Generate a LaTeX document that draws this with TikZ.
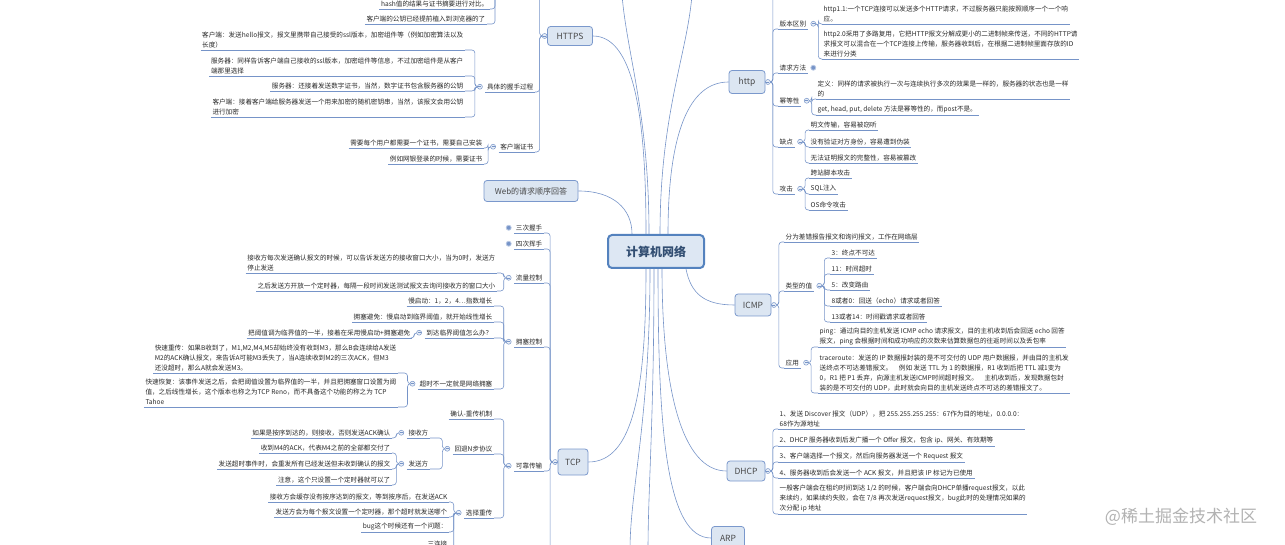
\documentclass[tikz,border=0pt]{standalone}
\usepackage{fontspec}
\setmainfont{Noto Sans CJK SC}
\usetikzlibrary{positioning}
\definecolor{linec}{RGB}{118,148,200}
\definecolor{boxfill}{RGB}{220,230,242}
\definecolor{boxline}{RGB}{122,152,204}
\definecolor{rootline}{RGB}{84,130,190}
\definecolor{rootfill}{RGB}{221,231,243}
\definecolor{txt}{RGB}{40,40,40}
\definecolor{mkfill}{RGB}{232,238,247}
\newcommand\leaffont{\fontsize{6.6}{10}\selectfont}
\newcommand\topicfont{\fontsize{8.5}{10}\selectfont}
\tikzset{
  lf/.style={font=\leaffont, text=txt, inner xsep=1.5pt, inner ysep=2pt, align=left},
  lfL/.style={lf, anchor=south east},
  lfR/.style={lf, anchor=south west},
  topic/.style={draw=boxline, fill=boxfill, rounded corners=3pt, font=\topicfont, text=txt!85, line width=0.8pt},
  conn/.style={draw=linec, line width=0.6pt, rounded corners=3pt},
  elL/.style={to path={-- ++(-5,0) |- (\tikztotarget)}},
  elR/.style={to path={-- ++(5,0) |- (\tikztotarget)}},
  mk/.style={circle, draw=linec, fill=mkfill, inner sep=0pt, minimum size=5pt, line width=0.5pt,
    path picture={\draw[linec, line width=0.5pt] ([xshift=-1.5pt]path picture bounding box.center) -- ([xshift=1.5pt]path picture bounding box.center);}},
  mkf/.style={circle, draw=linec!50, fill=linec, inner sep=0pt, minimum size=5pt, line width=0.8pt},
}
\begin{document}
\begin{tikzpicture}[x=1pt, y=-1pt]
\useasboundingbox (0,0) rectangle (1285,545);

% centre
\node[draw=rootline, fill=rootfill, line width=2pt, rounded corners=4pt, minimum width=96pt, minimum height=33pt,
  font=\fontsize{12}{14}\selectfont\bfseries, text=rootline!60!black] (root) at (656,251.5) {计算机网络};

% HTTPS
\node[topic, minimum width=45pt, minimum height=19pt] (https) at (570,36) {HTTPS};
\coordinate[left=2.5pt of https] (mHTTPS);
\coordinate (httpsup) at (536,-10);
\coordinate (hstop) at (500,-10);
\node[lfL] (hsa) at (490,9) {hash值的结果与证书摘要进行对比。};
\node[lfL] (hsb) at (487,24) {客户端的公钥已经提前植入到浏览器的了};
\node[lfL] (p1) at (535,92) {具体的握手过程};
\coordinate[left=5.5pt of p1] (mp1);
\node[lfL] (c1) at (465,50) {客户端：发送hello报文，报文里携带自己接受的ssl版本，加密组件等（例如加密算法以及\\长度）};
\node[lfL] (c2) at (465,76) {服务器：同样告诉客户端自己接收的ssl版本，加密组件等信息，不过加密组件是从客户\\端那里选择};
\node[lfL] (c3) at (465,91) {服务器：还接着发送数字证书，当然，数字证书包含服务器的公钥};
\node[lfL] (c4) at (465,117) {客户端：接着客户端给服务器发送一个用来加密的随机密钥串，当然，该报文会用公钥\\进行加密};
\node[lfL] (p2) at (535,152) {客户端证书};
\coordinate[left=5.5pt of p2] (mp2);
\node[lfL] (d1) at (484,148) {需要每个用户都需要一个证书，需要自己安装};
\node[lfL] (d2) at (484,164) {例如网银登录的时候，需要证书};

\node[topic, minimum width=94pt, minimum height=21pt, font=\fontsize{8}{10}\selectfont] (web) at (531,191) {Web的请求顺序回答};

% TCP
\node[topic, minimum width=30pt, minimum height=26pt] (tcp) at (573,462) {TCP};
\coordinate[left=2.5pt of tcp] (mTCP);
\coordinate (tcpdown) at (544,560);
\node[lfL] (t1) at (544,233) {三次握手};
\node[lfL] (t2) at (544,249) {四次挥手};
\node[lfL] (t3) at (544,283) {流量控制};
\node[lfL] (t4) at (544,347) {拥塞控制};
\node[lfL] (t5) at (544,471) {可靠传输};
\foreach \n in {t1,t2,t3,t4,t5} \coordinate[left=5.5pt of \n] (m\n);
\node[lfL] (f1) at (497,273) {接收方每次发送确认报文的时候，可以告诉发送方的接收窗口大小，当为0时，发送方\\停止发送};
\node[lfL] (f2) at (497,291) {之后发送方开放一个定时器，每隔一段时间发送测试报文去询问接收方的窗口大小};
\node[lfL] (g1) at (494,306) {慢启动：1，2，4…指数增长};
\node[lfL] (g2) at (494,322) {拥塞避免：慢启动到临界阈值，就开始线性增长};
\node[lfL] (g3) at (494,338) {到达临界阈值怎么办？};
\node[lfL] (g4) at (494,389) {超时不一定就是网络拥塞};
\coordinate[left=5.5pt of g3] (mg3);
\coordinate[left=5.5pt of g4] (mg4);
\node[lfL] (g3a) at (412,338) {把阈值调为临界值的一半，接着在采用慢启动+拥塞避免};
\node[lfL] (g4a) at (398,373) {快速重传：如果B收到了，M1,M2,M4,M5却始终没有收到M3，那么B会连续给A发送\\M2的ACK确认报文，来告诉A可能M3丢失了，当A连续收到M2的三次ACK，但M3\\还没超时，那么A就会发送M3。};
\node[lfL] (g4b) at (398,407) {快速恢复：该事件发送之后，会把阈值设置为临界值的一半，并且把拥塞窗口设置为阈\\值，之后线性增长，这个版本也称之为TCP Reno，而不具备这个功能的称之为 TCP\\Tahoe};
\node[lfL] (r1) at (494,419) {确认-重传机制};
\node[lfL] (r2) at (494,454) {回退N步协议};
\node[lfL] (r3) at (494,518) {选择重传};
\coordinate[left=5.5pt of r2] (mr2);
\coordinate[left=5.5pt of r3] (mr3);
\node[lfL] (r2a) at (430,438) {接收方};
\node[lfL] (r2b) at (430,469) {发送方};
\coordinate[left=5.5pt of r2a] (mr2a);
\coordinate[left=5.5pt of r2b] (mr2b);
\node[lfL] (r2a1) at (392,438) {如果是按序到达的，则接收，否则发送ACK确认};
\node[lfL] (r2b1) at (392,453) {收到M4的ACK，代表M4之前的全部都交付了};
\node[lfL] (r2b2) at (392,469) {发送超时事件时，会重发所有已经发送但未收到确认的报文};
\node[lfL] (r2b3) at (392,485) {注意，这个只设置一个定时器就可以了};
\node[lfL] (r3a) at (449,502) {接收方会缓存没有按序达到的报文，等到按序后，在发送ACK};
\node[lfL] (r3b) at (449,517) {发送方会为每个报文设置一个定时器，那个超时就发送哪个};
\node[lfL] (r3c) at (449,532) {bug这个时候还有一个问题：};
\node[lfL] (r3d) at (449,549) {三连接};

% http
\node[topic, minimum width=36pt, minimum height=23pt] (http) at (747,82) {http};
\coordinate[right=2.5pt of http] (mhttp);
\coordinate (httpup) at (780,-10);
\node[lfR] (h1) at (778,29) {版本区别};
\node[lfR] (h2) at (778,73) {请求方法};
\node[lfR] (h3) at (778,106) {幂等性};
\node[lfR] (h4) at (778,147) {缺点};
\node[lfR] (h5) at (778,194) {攻击};
\foreach \n in {h1,h2,h3,h4,h5} \coordinate[right=5.5pt of \n] (m\n);
\node[lfR] (h1a) at (822,24) {http1.1:一个TCP连接可以发送多个HTTP请求，不过服务器只能按照顺序一个一个响\\应。};
\node[lfR] (h1b) at (822,59) {http2.0采用了多路复用，它把HTTP报文分解成更小的二进制帧来传送，不同的HTTP请\\求报文可以混合在一个TCP连接上传输，服务器收到后，在根据二进制帧里面存放的ID\\来进行分类};
\node[lfR] (h3a) at (816,99) {定义：同样的请求被执行一次与连续执行多次的效果是一样的，服务器的状态也是一样\\的};
\node[lfR] (h3b) at (816,115) {get, head, put, delete 方法是幂等性的，而post不是。};
\node[lfR] (h4a) at (809,130) {明文传输，容易被窃听};
\node[lfR] (h4b) at (809,147) {没有验证对方身份，容易遭到伪装};
\node[lfR] (h4c) at (809,163) {无法证明报文的完整性，容易被篡改};
\node[lfR] (h5a) at (809,178) {跨站脚本攻击};
\node[lfR] (h5b) at (809,194) {SQL注入};
\node[lfR] (h5c) at (809,210) {OS命令攻击};

% ICMP
\node[topic, minimum width=36pt, minimum height=22pt] (icmp) at (753,305) {ICMP};
\coordinate[right=2.5pt of icmp] (micmp);
\node[lfR] (i1) at (784,242) {分为差错报告报文和询问报文，工作在网络层};
\node[lfR] (i2) at (784,291) {类型的值};
\node[lfR] (i3) at (784,368) {应用};
\coordinate[right=5.5pt of i2] (mi2);
\coordinate[right=5.5pt of i3] (mi3);
\node[lfR] (i2a) at (830,258) {3：终点不可达};
\node[lfR] (i2b) at (830,274) {11：时间超时};
\node[lfR] (i2c) at (830,290) {5：改变路由};
\node[lfR] (i2d) at (830,306) {8或者0：回送（echo）请求或者回答};
\node[lfR] (i2e) at (830,322) {13或者14：时间戳请求或者回答};
\node[lfR] (i3a) at (818,347) {ping：通过向目的主机发送 ICMP echo 请求报文，目的主机收到后会回送 echo 回答\\报文，ping 会根据时间和成功响应的次数来估算数据包的往返时间以及丢包率};
\node[lfR] (i3b) at (818,393) {traceroute：发送的 IP 数据报封装的是不可交付的 UDP 用户数据报，并由目的主机发\\送终点不可达差错报文。\quad 例如 发送 TTL 为 1 的数据报，R1 收到后把 TTL 减1变为\\0，R1 把 P1 丢弃，向源主机发送ICMP时间超时报文。\quad 主机收到后，发现数据包封\\装的是不可交付的 UDP，此时就会向目的主机发送终点不可达的差错报文了。};

% DHCP
\node[topic, minimum width=38pt, minimum height=20pt] (dhcp) at (746,471) {DHCP};
\coordinate[right=2.5pt of dhcp] (mdhcp);
\node[lfR] (dh1) at (778,429) {1、发送 Discover 报文（UDP），把 255.255.255.255：67作为目的地址，0.0.0.0：\\68作为源地址};
\node[lfR] (dh2) at (778,446) {2、DHCP 服务器收到后发广播一个 Offer 报文，包含 ip、网关、有效期等};
\node[lfR] (dh3) at (778,462) {3、客户端选择一个报文，然后向服务器发送一个 Request 报文};
\node[lfR] (dh4) at (778,478) {4、服务器收到后会发送一个 ACK 报文，并且把该 IP 标记为已使用};
\node[lfR] (dh5) at (778,514) {一般客户端会在租约时间到达 1/2 的时候，客户端会向DHCP单播request报文，以此\\来续约，如果续约失败，会在 7/8 再次发送request报文，bug此时的处理情况如果的\\次分配 ip 地址};

\node[topic, minimum width=33pt, minimum height=23pt] (arp) at (728,538) {ARP};

% links from the centre
\draw[conn] ([xshift=-10pt]root.north) .. controls +(0,-100) and +(45,0) .. (https.east);
\draw[conn] ([xshift=-7pt]root.north) .. controls +(0,-120) and +(5,60) .. (622,-5);
\draw[conn] ([xshift=4pt]root.north) .. controls +(0,-120) and +(-5,60) .. (692,-5);
\draw[conn] ([xshift=12pt]root.north) .. controls +(0,-100) and +(-40,0) .. (http.west);
\draw[conn] ([xshift=-24pt]root.north) .. controls +(0,-25) and +(35,0) .. (web.east);
\draw[conn] ([xshift=-10pt]root.south) .. controls +(0,120) and +(45,0) .. (tcp.east);
\draw[conn] ([xshift=-6pt]root.south) .. controls +(0,150) and +(0,-60) .. (630,550);
\draw[conn] ([xshift=-2pt]root.south) .. controls +(0,150) and +(0,-60) .. (648,550);
\draw[conn] ([xshift=2pt]root.south) .. controls +(0,160) and +(-45,0) .. (arp.west);
\draw[conn] ([xshift=6pt]root.south) .. controls +(0,120) and +(-45,0) .. (dhcp.west);
\draw[conn] ([xshift=30pt]root.south) .. controls +(5,25) and +(-30,0) .. (icmp.west);

% underlines
\foreach \n in {hsa,hsb,p1,c1,c2,c3,c4,p2,d1,d2,t1,t2,t3,t4,t5,f1,f2,g1,g2,g3,g4,g3a,g4a,g4b,
  r1,r2,r3,r2a,r2b,r2a1,r2b1,r2b2,r2b3,r3a,r3b,r3c,r3d,h1,h2,h3,h4,h5,h1a,h1b,h3a,h3b,
  h4a,h4b,h4c,h5a,h5b,h5c,i1,i2,i3,i2a,i2b,i2c,i2d,i2e,i3a,i3b,dh1,dh2,dh3,dh4,dh5}
  \draw[conn] (\n.south west) -- (\n.south east);

% branches, left side
\foreach \p/\c in {mHTTPS/p1,mHTTPS/p2,mp1/c1,mp1/c2,mp1/c3,mp1/c4,mp2/d1,mp2/d2,
  hstop/hsa,hstop/hsb,mTCP/t1,mTCP/t2,mTCP/t3,mTCP/t4,mTCP/t5,mt3/f1,mt3/f2,
  mt4/g1,mt4/g2,mt4/g3,mt4/g4,mg3/g3a,mg4/g4a,mg4/g4b,mt5/r1,mt5/r2,mt5/r3,
  mr2/r2a,mr2/r2b,mr2a/r2a1,mr2b/r2b1,mr2b/r2b2,mr2b/r2b3,mr3/r3a,mr3/r3b,mr3/r3c,mr3/r3d}
  \draw[conn] (\p) to[elL] (\c.south east);
\draw[conn] (mHTTPS) to[elL] (httpsup);
\draw[conn] (mTCP) to[elL] (tcpdown);

% branches, right side
\foreach \p/\c in {mhttp/h1,mhttp/h2,mhttp/h3,mhttp/h4,mhttp/h5,mh1/h1a,mh1/h1b,mh3/h3a,mh3/h3b,
  mh4/h4a,mh4/h4b,mh4/h4c,mh5/h5a,mh5/h5b,mh5/h5c,micmp/i1,micmp/i2,micmp/i3,
  mi2/i2a,mi2/i2b,mi2/i2c,mi2/i2d,mi2/i2e,mi3/i3a,mi3/i3b,
  mdhcp/dh1,mdhcp/dh2,mdhcp/dh3,mdhcp/dh4,mdhcp/dh5}
  \draw[conn] (\p) to[elR] (\c.south west);
\draw[conn] (mhttp) to[elR] (httpup);

% markers
\foreach \m in {mHTTPS,mp1,mp2,mTCP,mt3,mt4,mt5,mg3,mg4,mr2,mr2a,mr2b,mr3,
  mhttp,mh1,mh3,mh4,mh5,micmp,mi2,mi3,mdhcp}
  \node[mk] at (\m) {};
\foreach \m in {mt1,mt2,mh2} \node[mkf] at (\m) {};

\node[font=\fontsize{17}{19}\selectfont, text=black!30] (wm) at (1181,517) {@稀土掘金技术社区};
\end{tikzpicture}
\end{document}
